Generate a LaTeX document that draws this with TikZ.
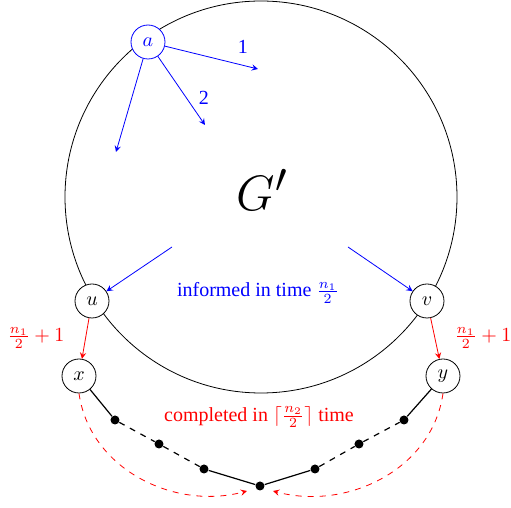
\documentclass[tikz,border=0pt]{standalone}
\usepackage{fontspec}
\setmainfont{Liberation Serif}
\begin{document}
\begin{tikzpicture}[x=0.5pt,y=0.5pt,>=stealth]
\tikzset{vtx/.style={circle,draw,fill=white,minimum size=17pt,inner sep=0pt},
  dot/.style={circle,fill,inner sep=0pt,minimum size=4.5pt},
  chain/.style={semithick}}
\useasboundingbox (0,0) rectangle (511,-508);
\draw (261,-197) circle (98pt);
\node[vtx,draw=blue,text=blue] (a) at (148,-42) {$a$};
\node[vtx] (u) at (92,-301) {$u$};
\node[vtx] (v) at (427,-301) {$v$};
\node[vtx] (x) at (79,-376) {$x$};
\node[vtx] (y) at (443,-376) {$y$};
\node (G) at (262,-190) {\Huge $G'$};
% first messages from a
\coordinate (e1) at (258,-69);
\coordinate (e2) at (205,-125);
\coordinate (e3) at (116,-152);
\draw[->,blue] (a) -- (e1);
\draw[->,blue] (a) -- (e2);
\draw[->,blue] (a) -- (e3);
\node[blue] (l1) at (243,-47) {1};
\node[blue] (l2) at (204,-98) {2};
% informed in time
\coordinate (su) at (172,-247);
\coordinate (sv) at (348,-247);
\draw[->,blue] (su) -- (u);
\draw[->,blue] (sv) -- (v);
\node[blue] (inf) at (258,-293) {informed in time $\frac{n_1}{2}$};
% step to x and y
\draw[->,red] (u) -- (x);
\draw[->,red] (v) -- (y);
\node[red] (lx) at (36,-338) {$\frac{n_1}{2}+1$};
\node[red] (ly) at (483,-338) {$\frac{n_1}{2}+1$};
% the path between x and y
\node[dot] (m1) at (115,-420) {};
\node[dot] (m2) at (159,-444) {};
\node[dot] (m3) at (204,-469) {};
\node[dot] (m4) at (260,-486) {};
\node[dot] (m5) at (315,-469) {};
\node[dot] (m6) at (359,-444) {};
\node[dot] (m7) at (404,-420) {};
\draw[chain] (x) -- (m1);
\draw[chain,dashed] (m1) -- (m2) -- (m3);
\draw[chain] (m3) -- (m4) -- (m5);
\draw[chain,dashed] (m5) -- (m6) -- (m7);
\draw[chain] (m7) -- (y);
\node[red] (comp) at (259,-417) {completed in $\lceil\frac{n_2}{2}\rceil$ time};
\coordinate (t1) at (247,-491);
\coordinate (t2) at (273,-491);
\draw[->,red,dashed] (x.south) to[out=-82,in=195] (t1);
\draw[->,red,dashed] (y.south) to[out=-98,in=-15] (t2);
\end{tikzpicture}
\end{document}
